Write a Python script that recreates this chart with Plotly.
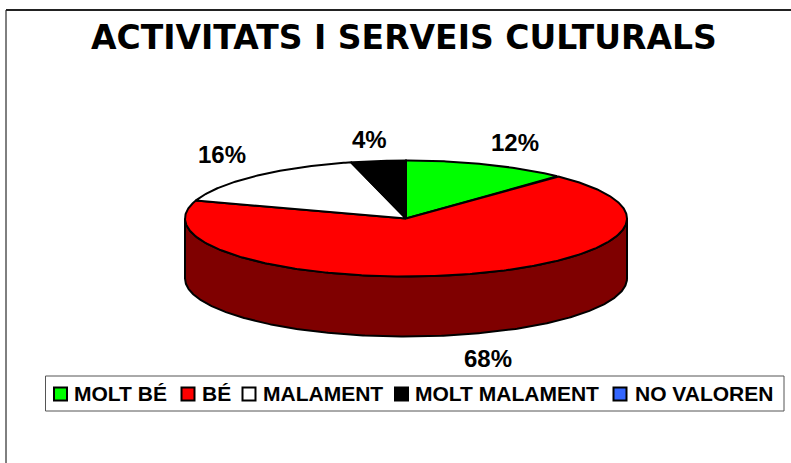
import numpy as np
import plotly.graph_objects as go

TITLE = "ACTIVITATS I SERVEIS CULTURALS"
categories = ["MOLT BÉ", "BÉ", "MALAMENT", "MOLT MALAMENT", "NO VALOREN"]
values = [12, 68, 16, 4, 0]
top_colors = ["#00FF00", "#FF0000", "#FFFFFF", "#000000", "#3366FF"]
side_colors = ["#007F00", "#7F0000", "#7F7F7F", "#000000", "#19337F"]

W, H = 791, 463
CX, CY, RX, RY, DEPTH = 406, 218.5, 221, 58, 60
OUT = "#000000"

label_pos = [(515, 142), (488, 358), (222, 154), (369, 139), None]
swatch_x = [60.5, 188, 249, 401.5, 620]
text_x = [71.5, 200, 261, 413, 633]
LEG_Y = 394


def rim(a0, a1, dy=0.0, n=None):
    n = n or max(2, int(abs(a1 - a0) * 2) + 2)
    a = np.radians(np.linspace(a0, a1, n))
    return CX + RX * np.sin(a), CY + dy - RY * np.cos(a)


fig = go.Figure()


def poly(x, y, fill, lw=2):
    fig.add_trace(go.Scatter(x=list(x), y=list(y), mode="lines", fill="toself",
                             fillcolor=fill, line=dict(color=OUT, width=lw),
                             hoverinfo="skip", showlegend=False))


total = sum(values)
edges = np.cumsum([0] + values) / total * 360

# visible outer wall: only the front half of the ellipse (90 to 270 degrees)
for i, v in enumerate(values):
    lo, hi = max(edges[i], 90), min(edges[i + 1], 270)
    if v and hi > lo:
        xt, yt = rim(lo, hi)
        xb, yb = rim(hi, lo, DEPTH)
        poly(np.r_[xt, xb, xt[0]], np.r_[yt, yb, yt[0]], side_colors[i])

# top wedges
for i, v in enumerate(values):
    if v:
        xs, ys = rim(edges[i], edges[i + 1])
        poly(np.r_[CX, xs, CX], np.r_[CY, ys, CY], top_colors[i])

# legend swatches
for i, c in enumerate(categories):
    fig.add_trace(go.Scatter(x=[swatch_x[i]], y=[LEG_Y], mode="markers",
                             marker=dict(symbol="square", size=13, color=top_colors[i],
                                         line=dict(color=OUT, width=2)),
                             hoverinfo="skip", showlegend=False))

FONT = "Liberation Sans"
ann = []
for v, p in zip(values, label_pos):
    if p:
        ann.append(dict(x=p[0], y=p[1], text=f"<b>{v / total:.0%}</b>", showarrow=False,
                        font=dict(family=FONT, size=24, color="#000")))
for c, x in zip(categories, text_x):
    ann.append(dict(x=x, y=LEG_Y - 0.5, text=f"<b>{c}</b>", showarrow=False, xanchor="left",
                    font=dict(family=FONT, size=21, color="#000")))
ann.append(dict(x=404, y=37, text=f"<b>{TITLE}</b>", showarrow=False,
                font=dict(family="DejaVu Sans", size=33, color="#000")))

shapes = [
    dict(type="line", x0=6, x1=6, y0=10, y1=H, line=dict(color="#000", width=1)),
    dict(type="line", x0=6, x1=W, y0=10, y1=10, line=dict(color="#222", width=2)),
    dict(type="rect", x0=45.5, x1=784, y0=376, y1=411, fillcolor="#fff", layer="below",
         line=dict(color="#555", width=1)),
]

fig.update_layout(
    width=W, height=H, margin=dict(l=0, r=0, t=0, b=0), autosize=False,
    paper_bgcolor="#fff", plot_bgcolor="#fff", showlegend=False,
    xaxis=dict(range=[0, W], visible=False, fixedrange=True),
    yaxis=dict(range=[H, 0], visible=False, fixedrange=True),
    annotations=ann, shapes=shapes,
)
fig.write_html("out.html", config=dict(displayModeBar=False),
               post_script="document.body.style.margin='0';document.body.style.overflow='hidden';")
